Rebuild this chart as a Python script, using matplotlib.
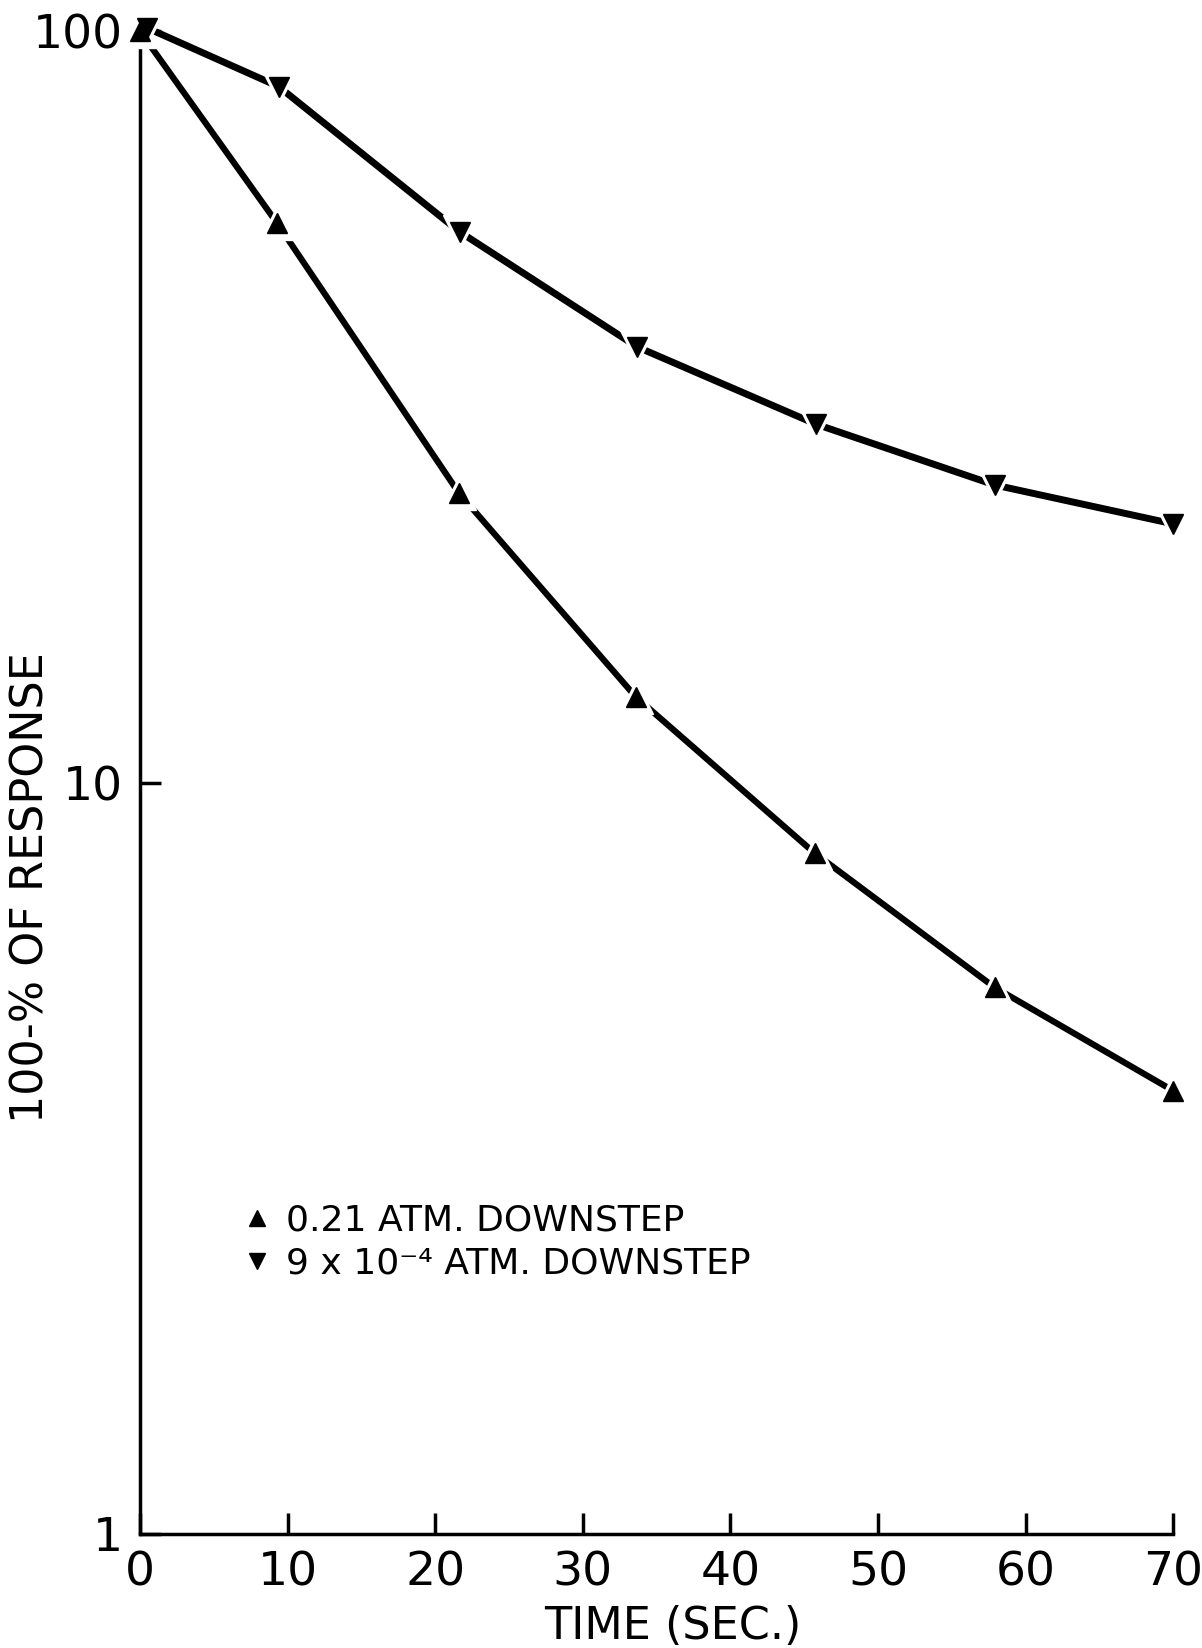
import matplotlib
matplotlib.use('Agg')
import matplotlib.pyplot as plt
from matplotlib.ticker import FixedLocator, NullLocator

plt.rcParams['font.family'] = ['DejaVu Sans']

# 0.21 atm downstep (upward triangles)
time_high = [0, 9.3, 21.6, 33.6, 45.7, 57.9, 70]
resp_high = [100, 55.5, 24.3, 13.0, 8.06, 5.34, 3.89]

# 9 x 10^-4 atm downstep (downward triangles)
time_low = [0.5, 9.4, 21.65, 33.7, 45.8, 57.9, 70]
resp_low = [101, 84.4, 54.1, 38.0, 30.0, 24.9, 22.1]

x_ticks = [0, 10, 20, 30, 40, 50, 60, 70]
y_ticks = [1, 10, 100]

fig = plt.figure(figsize=(12.02, 16.48), dpi=100)
ax = fig.add_axes([0.1165, 0.0692, 0.8595, 0.9118])
ax.set_yscale('log')
ax.set_xlim(0, 70)
ax.set_ylim(1, 100)

for t, r, mk, lw in [(time_high, resp_high, '^', 4.5),
                     (time_low, resp_low, 'v', 5.0)]:
    ax.plot(t, r, color='black', lw=lw, clip_on=False, zorder=2)
    ax.plot(t, r, ls='none', marker=mk, ms=25, color='white', clip_on=False, zorder=3)
    ax.plot(t, r, ls='none', marker=mk, ms=15, color='black', clip_on=False, zorder=4)

for s in ['top', 'right']:
    ax.spines[s].set_visible(False)
for s in ['left', 'bottom']:
    ax.spines[s].set_linewidth(2.5)

ax.xaxis.set_major_locator(FixedLocator(x_ticks))
ax.xaxis.set_minor_locator(FixedLocator([70]))
ax.set_xticklabels([str(v) for v in x_ticks])
ax.yaxis.set_major_locator(FixedLocator(y_ticks))
ax.yaxis.set_minor_locator(NullLocator())
ax.set_yticklabels(['1', '10', '100'])
ax.tick_params(axis='x', which='major', direction='in', length=15, width=2.5,
               labelsize=34, pad=12)
ax.tick_params(axis='x', which='minor', direction='in', length=26, width=2.5)
ax.tick_params(axis='y', direction='in', length=15, width=2.5, labelsize=34, pad=12)

ax.set_xlabel('TIME (SEC.)', fontsize=32)
ax.xaxis.set_label_coords(0.516, -0.047)
ax.set_ylabel('100-% OF RESPONSE', fontsize=32)
ax.yaxis.set_label_coords(-0.085, 0.43)

h1, = ax.plot([], [], ls='none', marker='^', ms=11, color='black')
h2, = ax.plot([], [], ls='none', marker='v', ms=11, color='black')
ax.legend([h1, h2], ['0.21 ATM. DOWNSTEP', '9 x 10\u207b\u2074 ATM. DOWNSTEP'],
          loc='upper left', bbox_to_anchor=(0.085, 0.232), frameon=False,
          fontsize=26, handlelength=0.6, handletextpad=0.5, labelspacing=0.25,
          borderpad=0)

fig.savefig('out.png', dpi=100)
